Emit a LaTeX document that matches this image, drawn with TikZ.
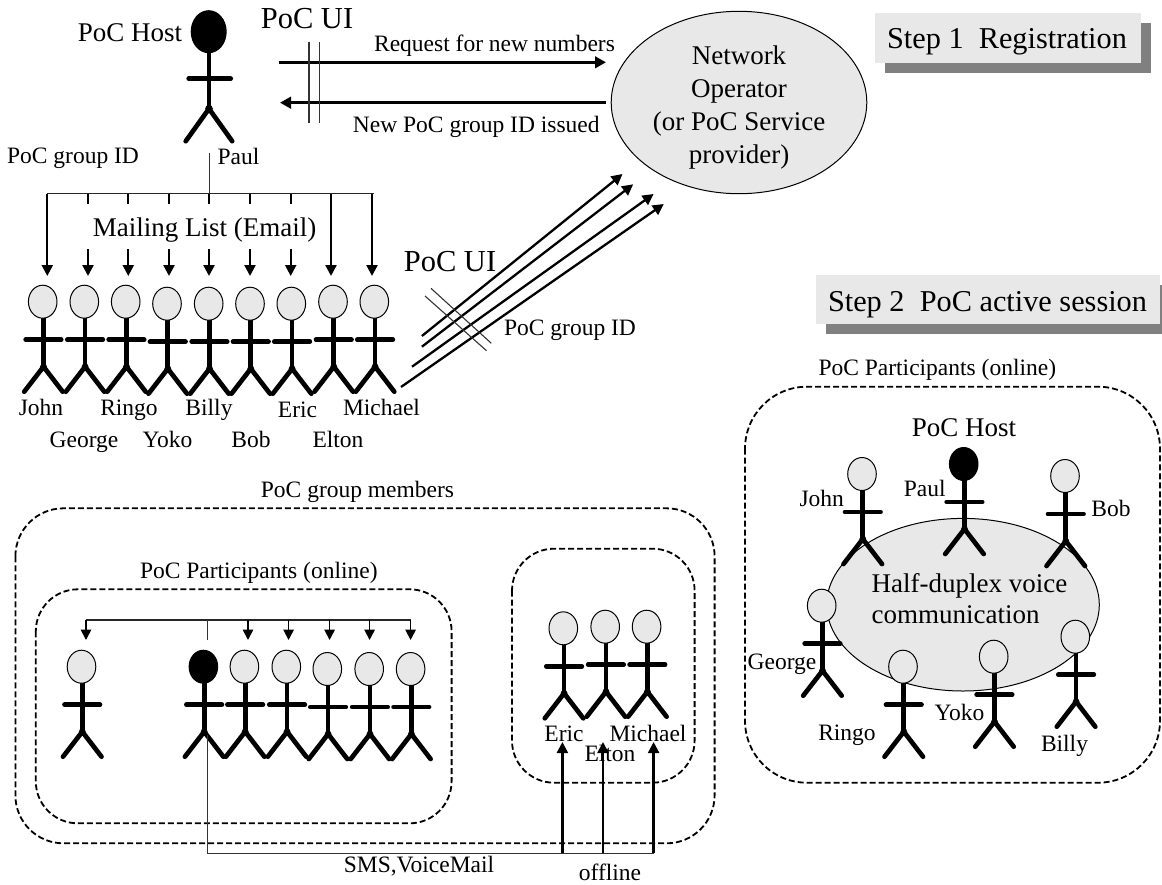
\documentclass[tikz,border=0pt]{standalone}
\usepackage{fontspec}
\setmainfont{Liberation Serif}
\usetikzlibrary{arrows.meta,shapes.geometric}
\definecolor{panelgray}{HTML}{E8E8E8}
\definecolor{shadowgray}{HTML}{808080}
\tikzset{
  headshape/.style={ellipse,draw=black,line width=1pt,inner sep=0pt,outer sep=0pt,minimum width=28.6pt,minimum height=33pt},
  limb/.style={line width=4.7pt,line cap=round,line join=round},
  lab/.style={inner sep=0pt,outer sep=0pt,anchor=base,font=\fontsize{23.5}{28}\selectfont},
  labbig/.style={lab,font=\fontsize{27}{31}\selectfont},
  labui/.style={lab,font=\fontsize{30.5}{34}\selectfont},
  steptext/.style={lab,font=\fontsize{30.3}{34}\selectfont},
  thick arrow/.style={line width=2.3pt,-{Triangle[length=11pt,width=11pt]}},
  heavy arrow/.style={line width=2.8pt,-{Triangle[length=11pt,width=11.5pt]}},
  fine arrow/.style={line width=1.7pt,-{Triangle[length=10.5pt,width=10.5pt]}},
  stub/.style={line width=2.3pt},
  bus/.style={line width=1.8pt,draw=black!85},
  thinline/.style={line width=1.1pt,draw=black!80},
  groupbox/.style={draw=black,line width=1.8pt,dash pattern=on 6pt off 3pt},
  blob/.style={ellipse,draw=black,line width=1pt,fill=panelgray,inner sep=0pt,outer sep=0pt},
}
\newcommand{\stickfig}[4][panelgray]{%
  \begin{scope}[shift={(#3,#4)}]
    \draw[limb] (0.8,14)--(0.8,65);
    \draw[limb] (-17,38)--(18.5,38);
    \draw[limb] (-18.5,90)--(0.8,65)--(20,90);
    \fill (0.8,65) circle[radius=3.4pt];
    \node[headshape,fill=#1] (#2) at (0,0) {};
  \end{scope}}
\begin{document}
\begin{tikzpicture}[x=1pt,y=-1pt]
\useasboundingbox (0,0) rectangle (1162,884);

% ---------- Step boxes
\fill[shadowgray] (885,23) rectangle (1151,73);
\node[fill=panelgray,inner sep=0pt,outer sep=0pt,minimum width=266.5pt,minimum height=50pt] (stepA) at (1007.8,38) {};
\node[steptext] (stepAtext) at (1007,48.5) {Step 1\ \ Registration};
\fill[shadowgray] (826,285) rectangle (1162,334);
\node[fill=panelgray,inner sep=0pt,outer sep=0pt,minimum width=344.5pt,minimum height=49pt] (stepB) at (988.2,299.5) {};
\node[steptext] (stepBtext) at (987.5,311) {Step 2\ \ PoC active session};

% ---------- Network operator
\node[blob,minimum width=255.6pt,minimum height=182.4pt] (netop) at (739,102.5) {};
\node[lab,anchor=center,align=center,font=\fontsize{27}{33}\selectfont] (netoptext) at (739,108) {Network\\Operator\\(or PoC Service\\provider)};

% ---------- Host
\begin{scope}[shift={(208.7,31.7)}]
  \draw[limb] (0.3,18)--(0.3,77);
  \draw[limb] (-20,47)--(22,47);
  \draw[limb] (-23,109.5)--(0.3,77)--(23.5,109.5);
  \fill (0.3,77) circle[radius=3.8pt];
  \node[headshape,fill=black,minimum width=35pt,minimum height=42pt] (host) at (0,0) {};
\end{scope}
\node[labbig] (hostlabel) at (130,41) {PoC Host};
\node[labui] (uiA) at (307,28) {PoC UI};
\node[lab] (reqlabel) at (494.5,51) {Request for new numbers};
\node[lab] (newlabel) at (476.3,132) {New PoC group ID issued};
\node[lab] (gidA) at (73,163) {PoC group ID};
\node[lab] (paulA) at (238.5,164) {Paul};

\coordinate (reqS) at (279,62.3); \coordinate (reqE) at (606,62.3);
\coordinate (newS) at (605.5,102.7); \coordinate (newE) at (280,102.7);
\draw[heavy arrow] (reqS) -- (reqE);
\draw[heavy arrow] (newS) -- (newE);
\coordinate (tickAt) at (309,42); \coordinate (tickAb) at (309,123);
\coordinate (tickBt) at (319.5,42); \coordinate (tickBb) at (319.5,123);
\draw[thinline] (tickAt) -- (tickAb);
\draw[thinline] (tickBt) -- (tickBb);

% ---------- Mailing list
\coordinate (stemT) at (209.5,153); \coordinate (stemB) at (209.5,193.5);
\draw[thinline] (stemT) -- (stemB);
\coordinate (busL) at (46.5,193.5); \coordinate (busR) at (374,193.5);
\draw[bus] (busL) -- (busR);
\foreach \nm/\px in {a/47.3,h/331,i/372}{
  \coordinate (t\nm) at (\px,193.5); \coordinate (b\nm) at (\px,276);
  \draw[thick arrow] (t\nm) -- (b\nm);
}
\foreach \nm/\px in {b/88,c/128.3,d/169,e/209,f/250,g/290.7}{
  \coordinate (t\nm) at (\px,193.5); \coordinate (m\nm) at (\px,203.5);
  \coordinate (n\nm) at (\px,249); \coordinate (b\nm) at (\px,276);
  \draw[stub] (t\nm) -- (m\nm);
  \draw[thick arrow] (n\nm) -- (b\nm);
}
\node[labbig] (mailing) at (204.5,236.7) {Mailing List (Email)};

\stickfig{rJohn}{42.7}{301.7}
\stickfig{rGeorge}{84.3}{301.7}
\stickfig{rRingo}{125.7}{301.7}
\stickfig{rYoko}{167}{303.7}
\stickfig{rBilly}{208.7}{303.7}
\stickfig{rBob}{250}{303.7}
\stickfig{rEric}{291.3}{303.7}
\stickfig{rElton}{333}{301.7}
\stickfig{rMichael}{374.3}{301.7}

\node[lab] (nJohn) at (41,415.7) {John};
\node[lab] (nRingo) at (129,415.7) {Ringo};
\node[lab] (nBilly) at (209,415.7) {Billy};
\node[lab] (nEric) at (297.5,417) {Eric};
\node[lab] (nMichael) at (381.5,415.7) {Michael};
\node[lab] (nGeorge) at (84,447) {George};
\node[lab] (nYoko) at (167.5,447) {Yoko};
\node[lab] (nBob) at (251,447) {Bob};
\node[lab] (nElton) at (338,447) {Elton};

% ---------- Diagonal arrows
\coordinate (dA) at (421.9,336); \coordinate (eA) at (622.5,174);
\coordinate (dB) at (421.9,346.7); \coordinate (eB) at (633.2,184.3);
\coordinate (dC) at (412,366.7); \coordinate (eC) at (653.6,194);
\coordinate (dD) at (401,387); \coordinate (eD) at (663.8,204);
\draw[thick arrow] (dA) -- (eA);
\draw[thick arrow] (dB) -- (eB);
\draw[thick arrow] (dC) -- (eC);
\draw[thick arrow] (dD) -- (eD);
\coordinate (xAs) at (431,288.3); \coordinate (xAe) at (491.3,343.3);
\coordinate (xBs) at (425,296); \coordinate (xBe) at (486.5,350.7);
\draw[thinline] (xAs) -- (xAe);
\draw[thinline] (xBs) -- (xBe);
\node[labui] (uiB) at (450,271) {PoC UI};
\node[lab] (gidB) at (570,335) {PoC group ID};

% ---------- Lower-left panel
\node[lab] (membersL) at (357.5,497) {PoC group members};
\draw[groupbox,rounded corners=48pt] (15.4,508.3) rectangle (714.6,843.3);
\node[lab] (partL) at (258.8,578) {PoC Participants (online)};
\draw[groupbox,rounded corners=42pt] (35.8,589.3) rectangle (451.6,823.3);
\draw[groupbox,rounded corners=42pt] (512,548.7) rectangle (694.6,782.7);

\coordinate (lbusL) at (86,620); \coordinate (lbusR) at (410.6,620);
\draw[bus] (lbusL) -- (lbusR);
\coordinate (lstemT) at (207.6,620); \coordinate (lstemB) at (207.6,640);
\draw[thinline] (lstemT) -- (lstemB);
\foreach \nm/\px in {a/86,b/248,c/288.6,d/329.6,e/369.6,f/410.6}{
  \coordinate (lt\nm) at (\px,620); \coordinate (lb\nm) at (\px,640);
  \draw[fine arrow] (lt\nm) -- (lb\nm);
}
\stickfig{lA}{81.5}{666.7}
\stickfig[black]{lHost}{203.4}{666.7}
\stickfig{lB}{244.4}{666.7}
\stickfig{lC}{286.3}{666.7}
\stickfig{lD}{327.3}{669}
\stickfig{lE}{369.2}{669}
\stickfig{lF}{410.6}{669}

\stickfig{oEric}{563.3}{628.3}
\stickfig{oElton}{605.2}{626.7}
\stickfig{oMichael}{646.6}{626.7}
\node[lab] (oEricL) at (564,741.7) {Eric};
\node[lab] (oMichaelL) at (648,741) {Michael};
\node[lab] (oEltonL) at (610,761) {Elton};

\coordinate (smsS) at (207.6,735); \coordinate (smsC) at (207.6,853.3); \coordinate (smsE) at (654,853.3);
\draw[thinline] (smsS) -- (smsC) -- (smsE);
\foreach \nm/\px in {a/562.4,b/603,c/653.6}{
  \coordinate (ob\nm) at (\px,853.3); \coordinate (ot\nm) at (\px,742);
  \draw[thick arrow] (ob\nm) -- (ot\nm);
}
\node[lab] (smsL) at (419,872.7) {SMS,VoiceMail};
\node[lab] (offL) at (610,880.7) {offline};

% ---------- Right panel
\node[lab] (partR) at (937.3,375) {PoC Participants (online)};
\draw[groupbox,rounded corners=62pt] (745,386.7) rectangle (1160,782.7);
\node[labbig] (hostR) at (964,436) {PoC Host};
\node[blob,minimum width=272.6pt,minimum height=172.6pt] (voice) at (963,604.7) {};
\node[labbig,anchor=base west] (voiceA) at (871.7,592) {Half-duplex voice};
\node[labbig,anchor=base west] (voiceB) at (871.7,623) {communication};

\stickfig{sJohn}{862}{474}
\stickfig[black]{sPaul}{963.7}{464}
\stickfig{sBob}{1065}{476}
\stickfig{sGeorge}{821.7}{605.7}
\stickfig{sRingo}{903}{666.7}
\stickfig{sYoko}{993.7}{656.7}
\stickfig{sBilly}{1075.3}{636.7}

\node[lab] (tJohn) at (821.7,506.7) {John};
\node[lab] (tPaul) at (924.7,496.7) {Paul};
\node[lab] (tBob) at (1111,516.7) {Bob};
\node[lab] (tGeorge) at (782,669.3) {George};
\node[lab] (tRingo) at (847,740.7) {Ringo};
\node[lab] (tYoko) at (959.5,720) {Yoko};
\node[lab] (tBilly) at (1064.5,751) {Billy};
\end{tikzpicture}
\end{document}
